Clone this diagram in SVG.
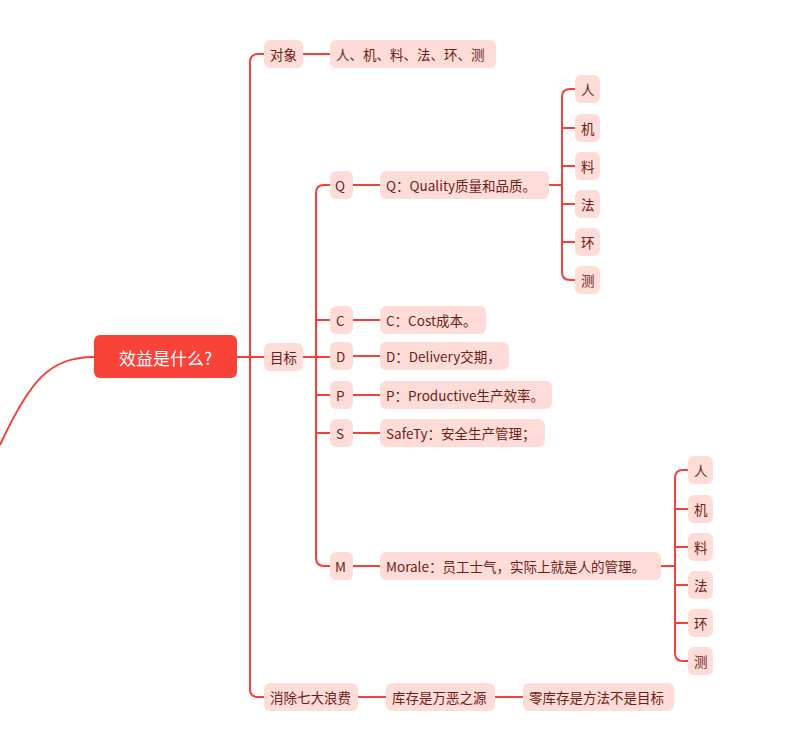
<svg xmlns="http://www.w3.org/2000/svg" width="800" height="741" viewBox="0 0 800 741">
<style>
.n rect{fill:#FFDCD8}
.n text{font-family:"Noto Sans CJK SC","Liberation Sans",sans-serif;font-size:13.5px;fill:#6B1E17;dominant-baseline:central}
#conn path{fill:none;stroke:#F63F37;stroke-width:2}
</style>
<rect width="800" height="741" fill="#fff"/>
<g id="conn">
<path d="M0,445 C30,380 50,357 94,357"/>
<path d="M237,357 H264"/>
<path d="M264,54 H258 Q250,54 250,62 V689 Q250,697 258,697 H264"/>
<path d="M303,54 H330"/>
<path d="M303,357 H330"/>
<path d="M330,185 H324 Q316,185 316,193 V558 Q316,566 324,566 H330"/>
<path d="M316,320 H330 M316,395 H330 M316,433 H330"/>
<path d="M353,185 H380 M353,320 H380 M353,356 H380 M353,395 H380 M353,433 H380 M353,566 H380"/>
<path d="M549,185 H562"/>
<path d="M575,89 H570 Q562,89 562,97 V272 Q562,280 570,280 H575"/>
<path d="M562,128 H575 M562,166 H575 M562,204 H575 M562,242 H575"/>
<path d="M661,566 H675"/>
<path d="M688,470 H683 Q675,470 675,478 V653 Q675,661 683,661 H688"/>
<path d="M675,509 H688 M675,547 H688 M675,585 H688 M675,623 H688"/>
<path d="M358,697 H386 M495,697 H523"/>
</g>
<g id="root"><rect x="94" y="335" width="143" height="43" rx="6" fill="#F9423A"/><text x="165.5" y="357" text-anchor="middle" dominant-baseline="central" font-family="Noto Sans CJK SC,sans-serif" font-size="17" fill="#fff">效益是什么?</text></g>
<g id="n1" class="n"><rect x="264" y="40" width="39" height="28" rx="6"/><text x="270" y="54">对象</text></g>
<g id="n2" class="n"><rect x="330" y="40" width="166" height="28" rx="6"/><text x="336" y="54">人、机、料、法、环、测</text></g>
<g id="n3" class="n"><rect x="264" y="343" width="39" height="28" rx="6"/><text x="270" y="357">目标</text></g>
<g id="n4" class="n"><rect x="264" y="683" width="94" height="28" rx="6"/><text x="270" y="697">消除七大浪费</text></g>
<g id="n5" class="n"><rect x="386" y="683" width="109" height="28" rx="6"/><text x="392" y="697">库存是万恶之源</text></g>
<g id="n6" class="n"><rect x="523" y="683" width="151" height="28" rx="6"/><text x="529" y="697">零库存是方法不是目标</text></g>
<g id="q" class="n"><rect x="330" y="171" width="23" height="28" rx="6"/><text x="335" y="185">Q</text></g>
<g id="c" class="n"><rect x="330" y="306" width="23" height="28" rx="6"/><text x="336" y="320">C</text></g>
<g id="d" class="n"><rect x="330" y="342" width="23" height="28" rx="6"/><text x="336" y="356">D</text></g>
<g id="p" class="n"><rect x="330" y="381" width="23" height="28" rx="6"/><text x="336" y="395">P</text></g>
<g id="s" class="n"><rect x="330" y="419" width="23" height="28" rx="6"/><text x="336" y="433">S</text></g>
<g id="m" class="n"><rect x="330" y="552" width="23" height="28" rx="6"/><text x="335" y="566">M</text></g>
<g id="q1" class="n"><rect x="380" y="171" width="169" height="28" rx="6"/><text x="386" y="185">Q：Quality质量和品质。</text></g>
<g id="c1" class="n"><rect x="380" y="306" width="106" height="28" rx="6"/><text x="386" y="320">C：Cost成本。</text></g>
<g id="d1" class="n"><rect x="380" y="342" width="129" height="28" rx="6"/><text x="386" y="356">D：Delivery交期，</text></g>
<g id="p1" class="n"><rect x="380" y="381" width="172" height="28" rx="6"/><text x="386" y="395">P：Productive生产效率。</text></g>
<g id="s1" class="n"><rect x="380" y="419" width="165" height="28" rx="6"/><text x="386" y="433">SafeTy：安全生产管理；</text></g>
<g id="m1" class="n"><rect x="380" y="552" width="281" height="28" rx="6"/><text x="386" y="566">Morale：员工士气，实际上就是人的管理。</text></g>
<g id="qa" class="n"><rect x="575" y="75" width="25" height="28" rx="6"/><text x="581" y="89">人</text></g>
<g id="qb" class="n"><rect x="575" y="114" width="25" height="28" rx="6"/><text x="581" y="128">机</text></g>
<g id="qc" class="n"><rect x="575" y="152" width="25" height="28" rx="6"/><text x="581" y="166">料</text></g>
<g id="qd" class="n"><rect x="575" y="190" width="25" height="28" rx="6"/><text x="581" y="204">法</text></g>
<g id="qe" class="n"><rect x="575" y="228" width="25" height="28" rx="6"/><text x="581" y="242">环</text></g>
<g id="qf" class="n"><rect x="575" y="266" width="25" height="28" rx="6"/><text x="581" y="280">测</text></g>
<g id="ma" class="n"><rect x="688" y="456" width="25" height="28" rx="6"/><text x="694" y="470">人</text></g>
<g id="mb" class="n"><rect x="688" y="495" width="25" height="28" rx="6"/><text x="694" y="509">机</text></g>
<g id="mc" class="n"><rect x="688" y="533" width="25" height="28" rx="6"/><text x="694" y="547">料</text></g>
<g id="md" class="n"><rect x="688" y="571" width="25" height="28" rx="6"/><text x="694" y="585">法</text></g>
<g id="me" class="n"><rect x="688" y="609" width="25" height="28" rx="6"/><text x="694" y="623">环</text></g>
<g id="mf" class="n"><rect x="688" y="647" width="25" height="28" rx="6"/><text x="694" y="661">测</text></g>
</svg>
